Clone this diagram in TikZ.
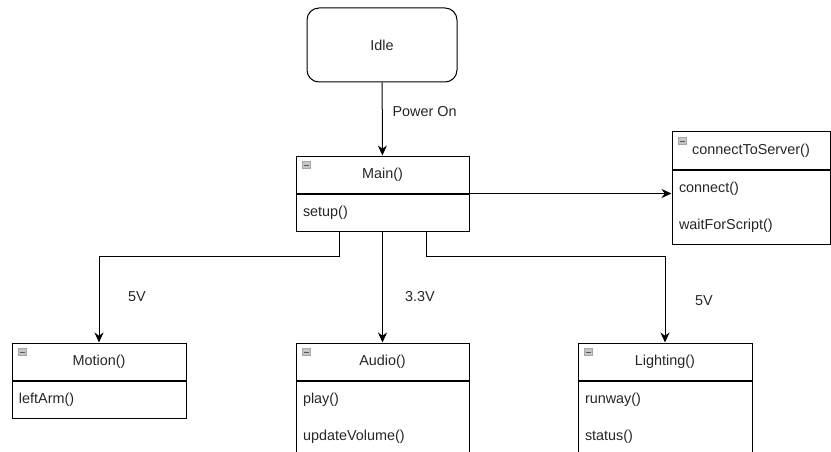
\documentclass[tikz,border=0pt]{standalone}
\usepackage{fontspec}
\setmainfont{Liberation Sans}
\usetikzlibrary{arrows.meta, positioning, calc}

\tikzset{
  txt/.style = {font = \fontsize{14.4}{17}\selectfont, text = black!85},
  state/.style = {draw, rectangle, rounded corners = 12, minimum width = 150, minimum height = 74, line width = 1, txt},
  umlhead/.style = {draw, rectangle, minimum width = #1, minimum height = 37, inner sep = 0pt, line width = 1, txt},
  umlbody/.style = {draw, rectangle, text width = #1, inner xsep = 7, inner ysep = 0pt, align = left, line width = 1, txt},
  arr/.style = {-{Stealth[length = 10, width = 9]}, line width = 1}
}

% little collapse box in the top left corner of a class header
\newcommand\foldicon[1]{%
  \filldraw[fill = gray!45, draw = gray!70] ([shift = {(7,6)}]#1.north west) rectangle ++(8,7);
  \draw[black!65, line width = 1] ([shift = {(8.5,9.5)}]#1.north west) -- ++(5,0);
}

\begin{document}
\begin{tikzpicture}[x = 1pt, y = -1pt]

\clip (0,0) rectangle (831,452);

% Idle state
\node[state] (idle) at (382,45) {Idle};

% Main class
\node[umlhead = 173] (main) at (382.5,174.5) {Main()};
\node[umlbody = 159, minimum height = 37, below = 0pt of main] (mainbody) {setup()};
\foldicon{main}

% Server class
\node[umlhead = 158] (con) at (751,150.5) {connectToServer()};
\node[umlbody = 144, minimum height = 74, below = 0pt of con] (conbody) {connect()\\[20pt]waitForScript()};
\foldicon{con}

% Hardware classes
\node[umlhead = 174] (motion) at (99,361.5) {Motion()};
\node[umlbody = 160, minimum height = 37, below = 0pt of motion] (motionbody) {leftArm()};
\foldicon{motion}

\node[umlhead = 173] (audio) at (382.5,361.5) {Audio()};
\node[umlbody = 159, minimum height = 74, below = 0pt of audio] (audiobody) {play()\\[20pt]updateVolume()};
\foldicon{audio}

\node[umlhead = 174] (lighting) at (665,361.5) {Lighting()};
\node[umlbody = 160, minimum height = 74, below = 0pt of lighting] (lightingbody) {runway()\\[20pt]status()};
\foldicon{lighting}

% Connectors
\draw[arr] (idle) -- (main);
\node[txt, anchor = west] (pwr) at (389,112) {Power On};

\draw[arr] (main.south east) -- (main.south east -| conbody.west);

\coordinate (mleft) at ($(mainbody.south west)!0.25!(mainbody.south east)$);
\coordinate (mright) at ($(mainbody.south west)!0.75!(mainbody.south east)$);

\draw[arr] (mleft) -- ++(0,25) -| (motion.north);
\draw[arr] (mainbody.south) -- (audio.north);
\draw[arr] (mright) -- ++(0,25) -| (lighting.north);

\node[txt] (vleft) at (137,297) {5V};
\node[txt] (vmid) at (420,297) {3.3V};
\node[txt] (vright) at (704,301) {5V};

\end{tikzpicture}
\end{document}
